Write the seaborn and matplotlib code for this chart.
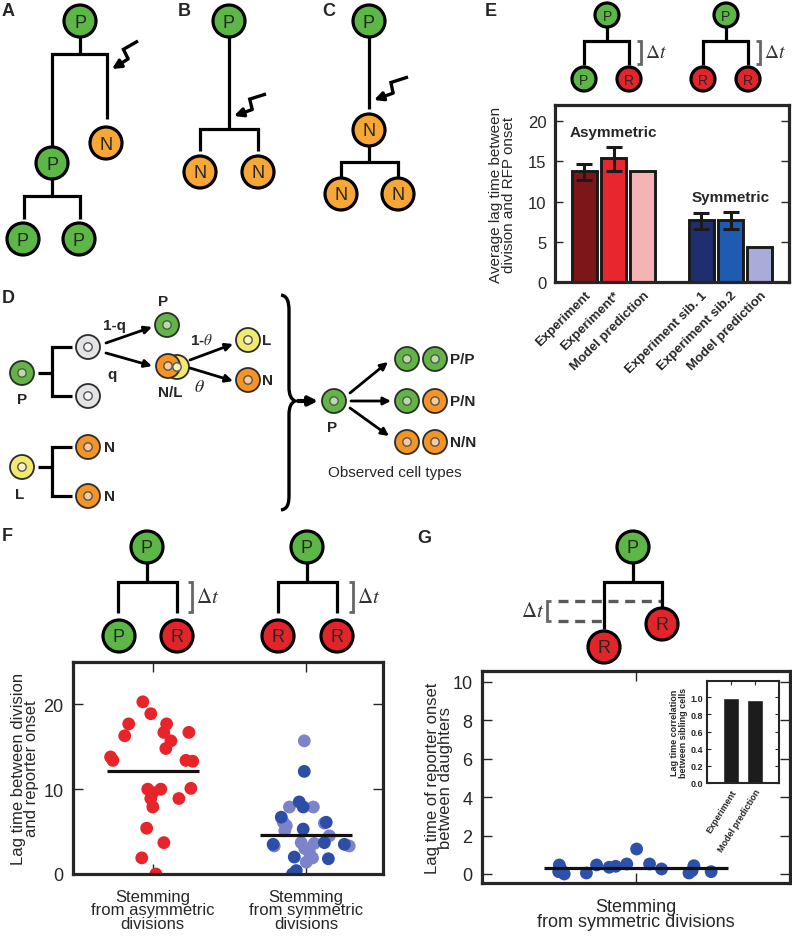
import numpy as np
import pandas as pd
import seaborn as sns
import matplotlib.pyplot as plt
from matplotlib.patches import Circle, PathPatch
from matplotlib.path import Path

sns.set_style("ticks")
plt.rcParams['font.family'] = ['Liberation Sans Narrow', 'Liberation Sans', 'DejaVu Sans']
plt.rcParams['mathtext.fontset'] = 'stix'

# ---------------- data ----------------
# panel E: average lag time between division and RFP onset
e_group = ["Asymmetric"] * 3 + ["Symmetric"] * 3
e_names = ["Experiment", "Experiment*", "Model prediction",
           "Experiment sib. 1", "Experiment sib.2", "Model prediction"]
e_mean = [13.8, 15.4, 13.8, 7.7, 7.7, 4.4]
e_low = [12.7, 13.8, np.nan, 6.6, 6.6, np.nan]
e_high = [14.7, 16.8, np.nan, 8.6, 8.7, np.nan]
e_colors = ["#7d1619", "#e8262d", "#f6b3b5", "#1f2e6e", "#1f5bb0", "#a9acd9"]

# panel F: lag time between division and reporter onset
f_categories = ["Stemming\nfrom asymmetric\ndivisions", "Stemming\nfrom symmetric\ndivisions"]
f_means = [12.1, 4.6]
asym_lag = [20.3, 18.9, 17.7, 17.7, 16.3, 16.7, 16.7, 15.7, 14.8, 13.8, 13.4, 13.4,
            13.3, 10.0, 10.0, 9.6, 10.1, 8.9, 8.9, 7.9, 5.4, 3.7, 1.9, 0.0]
asym_dx = [-0.065, -0.013, -0.157, 0.09, -0.183, 0.072, 0.235, 0.118, 0.085, -0.275, -0.26, 0.216,
           0.26, -0.033, 0.052, 0.0, 0.248, 0.17, -0.013, 0.0, -0.04, 0.072, -0.072, 0.02]
sym_dark_lag = [12.1, 8.5, 7.9, 6.7, 5.3, 6.1, 3.5, 3.7, 3.5, 2.0, 1.8, 0.4, 0.0]
sym_dark_dx = [-0.013, -0.046, -0.02, -0.163, -0.02, 0.13, -0.216, 0.118, 0.248, -0.078, 0.144, -0.065, -0.09]
sym_light_lag = [15.7, 7.9, 7.9, 6.1, 5.7, 5.1, 6.0, 4.5, 3.3, 3.7, 3.6, 2.6, 3.3, 1.4, 1.9, 3.0]
sym_light_dx = [-0.013, -0.11, 0.046, -0.15, -0.13, -0.14, 0.118, 0.15, -0.209, -0.033, 0.052, 0.02,
                0.28, 0.0, 0.041, -0.01]

# panel G: lag time of reporter onset between daughters
g_category = "Stemming\nfrom symmetric divisions"
g_mean = 0.31
g_lag = [0.47, 0.12, 0.0, 0.05, 0.47, 0.35, 0.4, 0.52, 1.3, 0.52, 0.26, 0.05, 0.43, 0.17, 0.12, 0.26]
g_dx = [-0.249, -0.251, -0.233, -0.161, -0.128, -0.087, -0.066, -0.03, 0.002, 0.044, 0.083,
        0.172, 0.188, 0.182, 0.244, -0.244]

# inset: lag time correlation between sibling cells
inset_names = ["Experiment", "Model prediction"]
inset_corr = [0.99, 0.97]

GREEN, ORANGE, RED = "#5cb746", "#f7a735", "#e3252b"
DCELL = {"green": ("#62b445", "#b7dca4"), "gray": ("#e3e3e5", "#f6f6f6"),
         "orange": ("#f39424", "#f8c99c"), "yellow": ("#f1ea6e", "#f8f5c2")}
SANS = ['Liberation Sans', 'DejaVu Sans']
NARROW = ['Liberation Sans Narrow', 'Liberation Sans', 'DejaVu Sans']

W, H = 792, 937
fig = plt.figure(figsize=(W / 100, H / 100), dpi=100)
bg = fig.add_axes([0, 0, 1, 1])
bg.set_xlim(0, W)
bg.set_ylim(H, 0)
bg.axis("off")


def px_axes(x0, y0, x1, y1):
    return fig.add_axes([x0 / W, 1 - y1 / H, (x1 - x0) / W, (y1 - y0) / H])


LW = 2.3


def seg(pts, color="k", lw=LW, ls="-", z=2):
    xs, ys = zip(*pts)
    bg.plot(xs, ys, color=color, lw=lw, ls=ls, solid_capstyle="butt",
            solid_joinstyle="miter", dash_capstyle="butt", zorder=z)


def cell(x, y, letter, color, r=16, fs=13):
    bg.add_patch(Circle((x, y), r, fc=color, ec="k", lw=LW, zorder=3))
    bg.text(x, y + 1, letter, ha="center", va="center", fontsize=fs, family=SANS, zorder=4)


def dcell(x, y, kind, r=12):
    fc, nc = DCELL[kind]
    bg.add_patch(Circle((x, y), r, fc=fc, ec="#2b2b2b", lw=1.3, zorder=3))
    bg.add_patch(Circle((x, y), 4.2, fc=nc, ec="#555555", lw=1.0, zorder=4))


def arrow(x0, y0, x1, y1, lw=2.0, ms=11):
    bg.annotate("", xy=(x1, y1), xytext=(x0, y0),
                arrowprops=dict(arrowstyle="-|>", color="k", lw=lw, mutation_scale=ms,
                                shrinkA=0, shrinkB=0))


def bolt(x0, y0, x1, y1):
    s = np.array([x0, y0], float)
    d = np.array([x1, y1], float) - s
    u = d / np.hypot(*d)
    n = np.array([-u[1], u[0]])
    p1 = s + 0.42 * d + 5 * n
    p2 = s + 0.52 * d - 5 * n
    seg([s, p1, p2], lw=2.4)
    arrow(p2[0], p2[1], x1, y1, lw=2.4, ms=13)


def letter(x, y, t):
    bg.text(x, y, t, ha="left", va="top", fontsize=13, fontweight="bold", family=SANS)


def delta_bracket(x, y0, y1, left=False, fs=15):
    k = 4
    if left:
        seg([(x + k, y0), (x, y0), (x, y1), (x + k, y1)], color="#666666", lw=2)
        bg.text(x - 3, (y0 + y1) / 2, r"$\Delta t$", ha="right", va="center", fontsize=fs, color="#333333")
    else:
        seg([(x - k, y0), (x, y0), (x, y1), (x - k, y1)], color="#666666", lw=2)
        bg.text(x + 4, (y0 + y1) / 2, r"$\Delta t$", ha="left", va="center", fontsize=fs, color="#333333")


# ---------------- panels A, B, C ----------------
letter(2, 3, "A")
cell(80, 22, "P", GREEN)
seg([(80, 38), (80, 55)])
seg([(52, 148), (52, 55), (107, 55), (107, 120)])
cell(106, 144, "N", ORANGE)
cell(52, 164, "P", GREEN)
seg([(52, 180), (52, 197)])
seg([(24, 220), (24, 197), (80, 197), (80, 220)])
cell(23, 240, "P", GREEN)
cell(79, 240, "P", GREEN)
bolt(138, 42, 112, 70)

letter(178, 3, "B")
cell(229, 22, "P", GREEN)
seg([(229, 38), (229, 130)])
seg([(200, 152), (200, 130), (258, 130), (258, 152)])
cell(200, 173, "N", ORANGE)
cell(258, 173, "N", ORANGE)
bolt(266, 95, 234, 117)

letter(322, 3, "C")
cell(369, 22, "P", GREEN)
seg([(369, 38), (369, 110)])
bolt(408, 78, 374, 101)
cell(369, 131, "N", ORANGE)
seg([(369, 147), (369, 163)])
seg([(341, 178), (341, 163), (398, 163), (398, 178)])
cell(341, 195, "N", ORANGE)
cell(398, 195, "N", ORANGE)

# ---------------- panel D ----------------
letter(2, 290, "D")
dkw = dict(fontsize=11, fontweight="bold", family=SANS, va="center")
dcell(22, 374, "green")
bg.text(22, 400, "P", ha="center", **dkw)
seg([(38, 374), (52, 374)])
seg([(72, 348), (52, 348), (52, 397), (72, 397)])
dcell(88, 348, "gray")
dcell(88, 397, "gray")
arrow(106, 344, 152, 328)
bg.text(114, 326, "1-q", ha="center", **dkw)
dcell(167, 326, "green")
bg.text(163, 302, "P", ha="center", **dkw)
arrow(106, 354, 152, 367)
bg.text(112, 375, "q", ha="center", **dkw)
dcell(177, 368, "yellow")
dcell(168, 367, "orange")
bg.text(170, 393, "N/L", ha="center", **dkw)
arrow(190, 361, 233, 345)
bg.text(202, 341, r"1-$\theta$", ha="center", **dkw)
arrow(190, 369, 233, 382)
bg.text(199, 388, r"$\theta$", ha="center", fontsize=13, va="center")
dcell(248, 341, "yellow")
bg.text(262, 341, "L", ha="left", **dkw)
dcell(248, 381, "orange")
bg.text(262, 381, "N", ha="left", **dkw)

dcell(22, 468, "yellow")
bg.text(20, 495, "L", ha="center", **dkw)
seg([(38, 468), (52, 468)])
seg([(72, 448), (52, 448), (52, 497), (72, 497)])
dcell(88, 448, "orange")
dcell(88, 497, "orange")
bg.text(104, 448, "N", ha="left", **dkw)
bg.text(104, 497, "N", ha="left", **dkw)

brace = Path([(281, 296), (287, 297), (289, 302), (289, 312), (289, 388),
              (289, 396), (291, 400), (295, 402), (291, 404), (289, 408), (289, 416),
              (289, 496), (289, 506), (287, 510), (281, 511)],
             [Path.MOVETO, Path.CURVE4, Path.CURVE4, Path.CURVE4, Path.LINETO,
              Path.CURVE4, Path.CURVE4, Path.CURVE4, Path.CURVE4, Path.CURVE4, Path.CURVE4,
              Path.LINETO, Path.CURVE4, Path.CURVE4, Path.CURVE4])
bg.add_patch(PathPatch(brace, fc="none", ec="k", lw=2.4))
arrow(298, 402, 318, 402, lw=3, ms=13)
dcell(334, 402, "green")
bg.text(332, 428, "P", ha="center", **dkw)
arrow(350, 394, 388, 363)
arrow(351, 402, 391, 402)
arrow(350, 409, 389, 437)
for yy, kinds, lab in [(360, ("green", "green"), "P/P"), (402, ("green", "orange"), "P/N"),
                       (443, ("orange", "orange"), "N/N")]:
    dcell(407, yy, kinds[0])
    dcell(435, yy, kinds[1])
    bg.text(450, yy, lab, ha="left", **dkw)
bg.text(395, 473, "Observed cell types", ha="center", va="center", fontsize=11, family=NARROW)

# ---------------- panel E ----------------
letter(485, 3, "E")
cell(607, 16, "P", GREEN, r=12, fs=10)
seg([(607, 28), (607, 42)])
seg([(584, 66), (584, 42), (629, 42), (629, 66)])
cell(584, 80, "P", GREEN, r=12, fs=10)
cell(629, 80, "R", RED, r=12, fs=10)
delta_bracket(641, 42, 65, fs=14)
cell(726, 16, "P", GREEN, r=12, fs=10)
seg([(726, 28), (726, 42)])
seg([(703, 66), (703, 42), (748, 42), (748, 66)])
cell(703, 80, "R", RED, r=12, fs=10)
cell(748, 80, "R", RED, r=12, fs=10)
delta_bracket(760, 42, 65, fs=14)

axE = px_axes(555, 106, 789, 283)
bars = [f"{g}|{n}" for g, n in zip(e_group, e_names)]
e_order = bars[:3] + ["gap"] + bars[3:]
df_e = pd.DataFrame({"bar": bars, "lag": e_mean})
sns.barplot(data=df_e, x="bar", y="lag", order=e_order, hue="bar", hue_order=bars,
            palette=e_colors, saturation=1, width=0.86, edgecolor="#1a1a1a", linewidth=2.1,
            errorbar=None, legend=False, ax=axE)
e_pos = np.array([e_order.index(b) for b in bars])
mean_arr = np.array(e_mean)
has_err = ~np.isnan(np.array(e_low))
axE.errorbar(e_pos[has_err], mean_arr[has_err],
             yerr=[mean_arr[has_err] - np.array(e_low)[has_err],
                   np.array(e_high)[has_err] - mean_arr[has_err]],
             fmt="none", ecolor="#1a1a1a", elinewidth=2.2, capsize=6, capthick=2.2)
axE.set_xlim(-1, 7)
axE.set_ylim(0, 22)
axE.set_yticks([0, 5, 10, 15, 20])
axE.set_xticks(e_pos)
axE.set_xticklabels(e_names, rotation=45, ha="right", va="top", rotation_mode="anchor",
                    fontweight="bold", fontsize=9.5, family=SANS)
axE.set_xlabel("")
axE.set_ylabel("Average lag time between\ndivision and RFP onset", fontsize=11, linespacing=0.9)
axE.yaxis.set_label_coords(-0.165, 0.5)
axE.tick_params(axis="y", direction="in", length=6, width=1, right=True, labelsize=12, pad=6)
axE.tick_params(axis="x", direction="in", length=3, width=1, pad=5)
for sp in axE.spines.values():
    sp.set_linewidth(2.3)
axE.text(1, 18.6, "Asymmetric", ha="center", va="center", fontsize=11, fontweight="bold", family=SANS)
axE.text(5, 10.6, "Symmetric", ha="center", va="center", fontsize=11, fontweight="bold", family=SANS)

# ---------------- panel F ----------------
letter(2, 528, "F")
cell(147, 548, "P", GREEN)
seg([(147, 564), (147, 583)])
seg([(118, 614), (118, 583), (177, 583), (177, 614)])
cell(119, 637, "P", GREEN)
cell(177, 637, "R", RED)
delta_bracket(192, 583, 613)
cell(307, 548, "P", GREEN)
seg([(307, 564), (307, 583)])
seg([(278, 614), (278, 583), (337, 583), (337, 614)])
cell(278, 637, "R", RED)
cell(337, 637, "R", RED)
delta_bracket(353, 583, 613)

axF = px_axes(73, 663, 383, 875)
df_f = pd.DataFrame({
    "pos": [0 + d for d in asym_dx] + [1 + d for d in sym_light_dx] + [1 + d for d in sym_dark_dx],
    "lag": asym_lag + sym_light_lag + sym_dark_lag,
    "kind": ["asym"] * len(asym_lag) + ["sym_light"] * len(sym_light_lag) + ["sym_dark"] * len(sym_dark_lag),
})
sns.scatterplot(data=df_f, x="pos", y="lag", hue="kind",
                palette={"asym": "#e8232a", "sym_light": "#7c83c9", "sym_dark": "#2c4ea7"},
                s=85, edgecolor="none", alpha=1, legend=False, ax=axF)
for i, m in enumerate(f_means):
    axF.hlines(m, i - 0.3, i + 0.3, color="#111111", lw=2.3, zorder=5)
axF.set_xlim(-0.52, 1.5)
axF.set_ylim(0, 25)
axF.set_yticks([0, 10, 20])
axF.set_xticks([0, 1])
axF.set_xticklabels(f_categories, fontsize=12, linespacing=0.85)
axF.set_xlabel("")
axF.set_ylabel("Lag time between division\nand reporter onset", fontsize=12, linespacing=0.85)
axF.yaxis.set_label_coords(-0.11, 0.5)
axF.tick_params(axis="y", direction="in", length=7, width=1, right=True, labelsize=13, pad=7)
axF.tick_params(axis="x", direction="in", length=7, width=1, top=True, pad=11)
for sp in axF.spines.values():
    sp.set_linewidth(2.3)

# ---------------- panel G ----------------
letter(417, 530, "G")
cell(633, 548, "P", GREEN)
seg([(633, 564), (633, 583)])
seg([(558, 602), (662, 602)], color="#5a5a5a", lw=2.4, ls=(0, (3, 2)), z=1)
seg([(558, 622), (604, 622)], color="#5a5a5a", lw=2.4, ls=(0, (3, 2)), z=1)
seg([(604, 630), (604, 583), (662, 583), (662, 608)])
cell(662, 625, "R", RED)
cell(604, 648, "R", RED)
delta_bracket(547, 602, 622, left=True)

axG = px_axes(482, 672, 790, 884)
df_g = pd.DataFrame({"pos": g_dx, "lag": g_lag})
sns.scatterplot(data=df_g, x="pos", y="lag", color="#2d51aa", s=85, edgecolor="none", ax=axG)
axG.hlines(g_mean, -0.3, 0.3, color="#111111", lw=2.3, zorder=1)
axG.set_xlim(-0.5, 0.5)
axG.set_ylim(-0.47, 10.57)
axG.set_yticks([0, 2, 4, 6, 8, 10])
axG.set_xticks([0])
axG.set_xticklabels([g_category], fontsize=13, linespacing=0.8)
axG.set_xlabel("")
axG.set_ylabel("Lag time of reporter onset\nbetween daughters", fontsize=12, linespacing=0.85)
axG.yaxis.set_label_coords(-0.095, 0.5)
axG.tick_params(axis="y", direction="in", length=7, width=1, right=True, labelsize=13, pad=7)
axG.tick_params(axis="x", direction="in", length=7, width=1, top=True, pad=11)
for sp in axG.spines.values():
    sp.set_linewidth(2.3)

axI = px_axes(707, 682, 779, 784)
df_i = pd.DataFrame({"name": inset_names, "corr": inset_corr})
sns.barplot(data=df_i, x="name", y="corr", color="#1c1c1c", width=0.67, errorbar=None,
            saturation=1, ax=axI)
axI.set_xlim(-1, 2)
axI.set_ylim(0, 1.19)
axI.set_yticks([0, 0.2, 0.4, 0.6, 0.8, 1.0])
axI.set_yticklabels(["0.0", "0.2", "0.4", "0.6", "0.8", "1.0"], fontsize=6.5, fontweight="bold", family=SANS)
axI.set_xticks([0, 1])
axI.set_xticklabels(inset_names, rotation=58, ha="right", va="top", rotation_mode="anchor",
                    fontsize=6.5, fontweight="bold", family=SANS)
axI.set_xlabel("")
axI.set_ylabel("Lag time correlation\nbetween sibling cells", fontsize=6.5, fontweight="bold",
               family=SANS, linespacing=0.9)
axI.yaxis.set_label_coords(-0.27, 0.5)
axI.tick_params(axis="y", direction="in", length=3, width=0.8, right=True, pad=3)
axI.tick_params(axis="x", direction="in", length=3, width=0.8, top=True, pad=3)
for sp in axI.spines.values():
    sp.set_linewidth(1.5)

fig.savefig("out.png", dpi=100)
